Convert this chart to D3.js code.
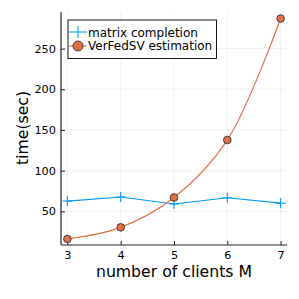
<!DOCTYPE html>
<html><head><meta charset="utf-8">
<script src="https://cdn.jsdelivr.net/npm/d3@7"></script>
<style>body{margin:0;background:#fff}svg{display:block}text{font-family:"DejaVu Sans",sans-serif}</style>
</head><body><svg id="c" width="299" height="299"></svg>
<script>
const clients = [3, 4, 5, 6, 7];
const matrixCompletion = [62.6, 67.6, 59, 66.7, 60];
const verFedSV = [16, 30.3, 67, 137.6, 287];
const xTicks = [3, 4, 5, 6, 7];
const yTicks = [50, 100, 150, 200, 250];
const seriesNames = ["matrix completion", "VerFedSV estimation"];

const svg = d3.select("#c");
const L = 61, R = 287, T = 12, B = 245;
const x = d3.scaleLinear().domain([2.88, 7.12]).range([L, R]);
const y = d3.scaleLinear().domain([8.6, 295]).range([B, T]);

// grid
svg.append("g").selectAll("line").data(xTicks).join("line")
  .attr("x1", d => x(d)).attr("x2", d => x(d)).attr("y1", T).attr("y2", B)
  .attr("stroke", "#000").attr("stroke-opacity", 0.1).attr("stroke-width", 0.6);
svg.append("g").selectAll("line").data(yTicks).join("line")
  .attr("y1", d => y(d)).attr("y2", d => y(d)).attr("x1", L).attr("x2", R)
  .attr("stroke", "#000").attr("stroke-opacity", 0.1).attr("stroke-width", 0.6);

// axes
const xAxis = d3.axisBottom(x).tickValues(xTicks).tickSize(-4).tickPadding(6).tickFormat(d3.format("d"));
const yAxis = d3.axisLeft(y).tickValues(yTicks).tickSize(-4).tickPadding(5).tickFormat(d3.format("d"));
const gx = svg.append("g").attr("transform", `translate(0,${B})`).call(xAxis);
const gy = svg.append("g").attr("transform", `translate(${L},0)`).call(yAxis);
[gx, gy].forEach(g => {
  g.select(".domain").remove();
  g.selectAll(".tick line").attr("stroke", "#222").attr("stroke-width", 1);
  g.selectAll(".tick text").attr("font-size", 11.3).attr("fill", "#000").attr("font-family", "DejaVu Sans");
});
svg.append("line").attr("x1", L).attr("x2", R).attr("y1", B).attr("y2", B).attr("stroke", "#222").attr("stroke-width", 1.2);
svg.append("line").attr("x1", L).attr("x2", L).attr("y1", T).attr("y2", B).attr("stroke", "#222").attr("stroke-width", 1.2);

// labels
svg.append("text").attr("x", 174).attr("y", 277).attr("text-anchor", "middle")
  .attr("font-size", 15.7).text("number of clients M");
svg.append("text").attr("transform", `translate(27.5,128) rotate(-90)`).attr("text-anchor", "middle")
  .attr("font-size", 15.7).text("time(sec)");

const blue = "#009AFA", orange = "#E26F46";
// matrix completion
svg.append("path").datum(clients.map((c, i) => [c, matrixCompletion[i]]))
  .attr("d", d3.line().x(d => x(d[0])).y(d => y(d[1])))
  .attr("fill", "none").attr("stroke", blue).attr("stroke-width", 1.2);
svg.append("g").selectAll("path").data(clients.map((c, i) => [c, matrixCompletion[i]])).join("path")
  .attr("d", d => `M${x(d[0]) - 5},${y(d[1])}h10M${x(d[0])},${y(d[1]) - 5}v10`)
  .attr("stroke", blue).attr("stroke-width", 1.1);
// VerFedSV
svg.append("path").datum(clients.map((c, i) => [c, verFedSV[i]]))
  .attr("d", d3.line().curve(d3.curveCatmullRom).x(d => x(d[0])).y(d => y(d[1])))
  .attr("fill", "none").attr("stroke", orange).attr("stroke-width", 1.2);
svg.append("g").selectAll("circle").data(clients.map((c, i) => [c, verFedSV[i]])).join("circle")
  .attr("cx", d => x(d[0])).attr("cy", d => y(d[1])).attr("r", 3.8)
  .attr("fill", orange).attr("stroke", "#333").attr("stroke-width", 0.9);

// legend
const lg = svg.append("g");
lg.append("rect").attr("x", 68).attr("y", 20).attr("width", 148.5).attr("height", 38.5)
  .attr("fill", "#fff").attr("stroke", "#000").attr("stroke-width", 0.9);
lg.append("path").attr("d", "M69,32h18M78,26v12").attr("stroke", blue).attr("stroke-width", 1.1);
lg.append("path").attr("d", "M69,46h18").attr("stroke", orange).attr("stroke-width", 1.1);
lg.append("circle").attr("cx", 78).attr("cy", 46).attr("r", 5).attr("fill", orange).attr("stroke", "#333").attr("stroke-width", 0.9);
lg.selectAll("text.l").data(seriesNames).join("text").attr("class", "l")
  .attr("x", 88).attr("y", (d, i) => 36.5 + i * 13).attr("font-size", 12).text(d => d);
</script></body></html>
